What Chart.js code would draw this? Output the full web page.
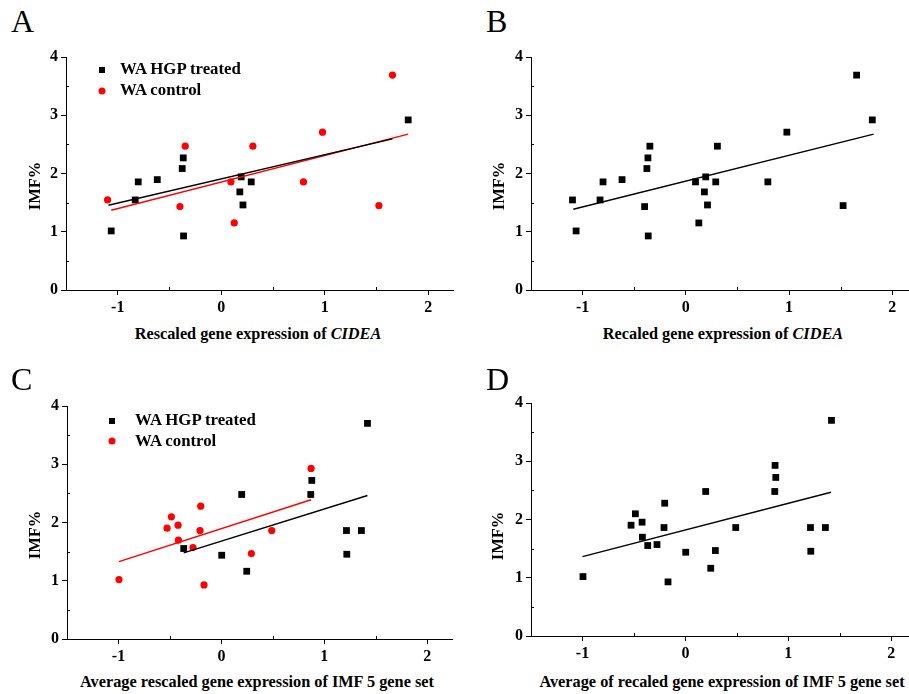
<!DOCTYPE html>
<html>
<head>
<meta charset="utf-8">
<script src="https://cdn.jsdelivr.net/npm/chart.js@4/dist/chart.umd.min.js"></script>
<style>
  html, body { margin:0; padding:0; background:#fff; }
  body { width:909px; height:694px; overflow:hidden; position:relative; font-family:'Liberation Serif','Times New Roman',serif; }
  canvas { position:absolute; }
  .t { position:absolute; white-space:nowrap; color:#000; line-height:1; }
  .letter { font-size:32px; }
  .xt { font-weight:bold; font-size:16.3px; transform:translate(-50%,-50%); }
  .yt { font-weight:bold; font-size:16.5px; transform:translate(-50%,-50%) rotate(-90deg); }
  .lg { font-weight:bold; font-size:16.8px; transform:translateY(-50%); }
  .mk { position:absolute; transform:translate(-50%,-50%); }
</style>
</head>
<body>
<canvas id="cA"></canvas>
<canvas id="cB"></canvas>
<canvas id="cC"></canvas>
<canvas id="cD"></canvas>

<div class="t letter" style="left:11px;top:5px;">A</div>
<div class="t letter" style="left:486px;top:5px;">B</div>
<div class="t letter" style="left:11px;top:363px;">C</div>
<div class="t letter" style="left:486px;top:363px;">D</div>

<div class="t xt" style="left:258px;top:334px;">Rescaled gene expression of <i>CIDEA</i></div>
<div class="t xt" style="left:723px;top:334px;">Recaled gene expression of <i>CIDEA</i></div>
<div class="t xt" style="left:257px;top:682px;">Average rescaled gene expression of IMF 5 gene set</div>
<div class="t xt" style="left:722px;top:682px;">Average of recaled gene expression of IMF 5 gene set</div>

<div class="t yt" style="left:35px;top:186px;">IMF%</div>
<div class="t yt" style="left:499px;top:186px;">IMF%</div>
<div class="t yt" style="left:35px;top:535px;">IMF%</div>
<div class="t yt" style="left:498px;top:536px;">IMF%</div>

<div class="mk" style="left:102px;top:70px;width:6px;height:6px;background:#000;"></div>
<div class="t lg" style="left:120px;top:69px;">WA HGP treated</div>
<div class="mk" style="left:102px;top:91px;width:7px;height:7px;border-radius:50%;background:#f00;"></div>
<div class="t lg" style="left:120px;top:90px;">WA control</div>

<div class="mk" style="left:112px;top:421px;width:6px;height:6px;background:#000;"></div>
<div class="t lg" style="left:135px;top:420px;">WA HGP treated</div>
<div class="mk" style="left:112px;top:441px;width:7px;height:7px;border-radius:50%;background:#f00;"></div>
<div class="t lg" style="left:135px;top:441px;">WA control</div>

<script>
// ---- Data ----
const xTickValues = [-1, 0, 1, 2];
const yTickValues = [0, 1, 2, 3, 4];
const xMinorValues = [-0.5, 0.5, 1.5];
const yMinorValues = [0.5, 1.5, 2.5, 3.5];
const seriesNames = ['WA HGP treated', 'WA control'];

// Panel A: CIDEA
const aTreatedX = [-1.063, -0.831, -0.802, -0.618, -0.377, -0.367, -0.364, 0.193, 0.180, 0.210, 0.290, 1.807];
const aTreatedY = [1.014, 1.546, 1.856, 1.895, 2.085, 2.268, 0.928, 1.942, 1.684, 1.460, 1.856, 2.920];
const aControlX = [-1.098, -0.399, -0.348, 0.094, 0.126, 0.306, 0.795, 0.979, 1.524, 1.655];
const aControlY = [1.546, 1.432, 2.469, 1.856, 1.151, 2.469, 1.856, 2.710, 1.449, 3.689];
const aFitTreatedX = [-1.09, 1.655];
const aFitTreatedY = [1.455, 2.594];
const aFitControlX = [-1.063, 1.807];
const aFitControlY = [1.369, 2.675];
// Panel B: pooled CIDEA
const bFitX = [-1.09, 1.82];
const bFitY = [1.386, 2.675];

// Panel C: IMF 5 gene set
const cTreatedX = [-0.366, 0.003, 0.197, 0.246, 0.868, 0.878, 1.215, 1.218, 1.360, 1.419];
const cTreatedY = [1.553, 1.438, 2.481, 1.163, 2.481, 2.722, 1.862, 1.455, 1.862, 3.702];
const cControlX = [-0.995, -0.528, -0.486, -0.421, -0.418, -0.276, -0.201, -0.208, -0.169, 0.291, 0.489, 0.871];
const cControlY = [1.020, 1.902, 2.098, 1.954, 1.696, 1.570, 2.280, 1.862, 0.929, 1.467, 1.862, 2.929];
const cFitTreatedX = [-0.366, 1.419];
const cFitTreatedY = [1.479, 2.464];
const cFitControlX = [-0.995, 0.871];
const cFitControlY = [1.329, 2.390];
// Panel D: pooled gene set
const dFitX = [-1.0, 1.414];
const dFitY = [1.363, 2.468];

// ---- helpers ----
const pts = (xs, ys) => xs.map((x, i) => ({ x: x, y: ys[i] }));
const FONT = { family: "'Liberation Serif','Times New Roman',serif", weight: 'bold', size: 16 };

function scatterSet(label, xs, ys, color, style) {
  return {
    type: 'scatter', label: label, data: pts(xs, ys),
    pointStyle: style, pointRadius: style === 'rect' ? 4.8 : 3.6, pointHoverRadius: 0,
    backgroundColor: color, borderColor: color, borderWidth: 0, showLine: false
  };
}
function lineSet(label, xs, ys, color) {
  return {
    type: 'scatter', label: label, data: pts(xs, ys), showLine: true,
    borderColor: color, borderWidth: 1.4, pointRadius: 0, fill: false
  };
}

const minorTicks = {
  id: 'minorTicks',
  afterDraw(chart) {
    const ctx = chart.ctx, xs = chart.scales.x, ys = chart.scales.y, a = chart.chartArea;
    ctx.save();
    ctx.strokeStyle = '#000'; ctx.lineWidth = 1;
    ctx.beginPath();
    xMinorValues.forEach(v => { const p = Math.round(xs.getPixelForValue(v)) + 0.5; ctx.moveTo(p, a.bottom); ctx.lineTo(p, a.bottom - 3); });
    yMinorValues.forEach(v => { const p = Math.round(ys.getPixelForValue(v)) + 0.5; ctx.moveTo(a.left, p); ctx.lineTo(a.left + 3, p); });
    ctx.stroke();
    ctx.restore();
  }
};

const X_MIN = -1.5, X_MAX = 2.24, Y_MIN = 0, Y_MAX = 4;
const YW = 66, XH = 32, PT = 15, PR = 6;

function makePanel(id, zeroX, ppu, top, bottom, datasets) {
  const L = zeroX + X_MIN * ppu;
  const R = zeroX + X_MAX * ppu;
  const cl = L - YW, ct = top - PT;
  const cw = R + PR - cl, ch = bottom + XH - ct;
  const cv = document.getElementById(id);
  cv.style.left = cl + 'px'; cv.style.top = ct + 'px';
  cv.width = Math.round(cw); cv.height = Math.round(ch);
  cv.style.width = Math.round(cw) + 'px'; cv.style.height = Math.round(ch) + 'px';
  new Chart(cv, {
    type: 'scatter',
    data: { datasets: datasets },
    plugins: [minorTicks],
    options: {
      responsive: false, animation: false, devicePixelRatio: 1,
      layout: { padding: { left: 0, top: PT, right: PR, bottom: 0 } },
      plugins: { legend: { display: false }, tooltip: { enabled: false } },
      events: [],
      scales: {
        x: {
          type: 'linear', min: X_MIN, max: X_MAX,
          afterBuildTicks: s => { s.ticks = xTickValues.map(v => ({ value: v })); },
          afterFit: s => { s.height = XH; s.paddingLeft = 0; s.paddingRight = 0; },
          grid: { drawOnChartArea: false, drawTicks: true, tickLength: 5, color: '#000', tickColor: '#000' },
          border: { display: true, color: '#000', width: 1 },
          ticks: { font: FONT, color: '#000', padding: 3, maxRotation: 0, autoSkip: false,
                   callback: v => (v < 0 ? '-' + Math.abs(v) : String(v)) }
        },
        y: {
          type: 'linear', min: Y_MIN, max: Y_MAX,
          afterBuildTicks: s => { s.ticks = yTickValues.map(v => ({ value: v })); },
          afterFit: s => { s.width = YW; s.paddingTop = 0; s.paddingBottom = 0; },
          grid: { drawOnChartArea: false, drawTicks: true, tickLength: 5, color: '#000', tickColor: '#000' },
          border: { display: true, color: '#000', width: 1 },
          ticks: { font: FONT, color: '#000', padding: 3, autoSkip: false }
        }
      }
    }
  });
}

makePanel('cA', 221.25, 103.5, 57.3, 290, [
  lineSet('fit ' + seriesNames[0], aFitTreatedX, aFitTreatedY, '#000'),
  lineSet('fit ' + seriesNames[1], aFitControlX, aFitControlY, '#f00'),
  scatterSet(seriesNames[1], aControlX, aControlY, '#f00', 'circle'),
  scatterSet(seriesNames[0], aTreatedX, aTreatedY, '#000', 'rect')
]);
makePanel('cB', 686, 103.3, 57.3, 290, [
  lineSet('fit', bFitX, bFitY, '#000'),
  scatterSet('all', aTreatedX.concat(aControlX), aTreatedY.concat(aControlY), '#000', 'rect')
]);
makePanel('cC', 221.7, 102.9, 405.7, 638.3, [
  lineSet('fit ' + seriesNames[0], cFitTreatedX, cFitTreatedY, '#000'),
  lineSet('fit ' + seriesNames[1], cFitControlX, cFitControlY, '#f00'),
  scatterSet(seriesNames[1], cControlX, cControlY, '#f00', 'circle'),
  scatterSet(seriesNames[0], cTreatedX, cTreatedY, '#000', 'rect')
]);
makePanel('cD', 685, 103, 403.3, 636, [
  lineSet('fit', dFitX, dFitY, '#000'),
  scatterSet('all', cTreatedX.concat(cControlX), cTreatedY.concat(cControlY), '#000', 'rect')
]);
</script>
</body>
</html>
